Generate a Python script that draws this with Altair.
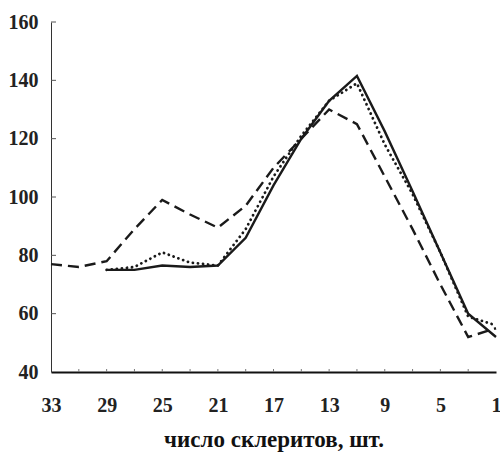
import altair as alt
import pandas as pd

# x positions (number of sclerites) and series values
x_solid = [29, 27, 25, 23, 21, 19, 17, 15, 13, 11, 9, 7, 5, 3, 1]
y_solid = [75, 75, 76.5, 76, 76.5, 86, 104, 120, 133, 141.5, 122.5, 102, 81, 60, 52]

x_dotted = [29, 27, 25, 23, 21, 19, 17, 15, 13, 11, 9, 7, 5, 3, 1]
y_dotted = [75, 76, 81, 77.5, 76.5, 89, 107, 121, 133, 139, 118, 101, 81, 59, 56]

x_dashed = [33, 31, 29, 27, 25, 23, 21, 19, 17, 15, 13, 11, 9, 7, 5, 3, 1]
y_dashed = [77, 76, 78, 89, 99, 94, 89.5, 97, 110, 120, 130, 125, 107, 89, 70, 52, 55]

x_tick_labels = [33, 29, 25, 21, 17, 13, 9, 5, 1]
x_minor_ticks = [31, 29, 27, 25, 23, 21, 19, 17, 15, 13, 11, 9, 7, 5, 3]
y_tick_labels = [40, 60, 80, 100, 120, 140, 160]

W, H = 445, 350
FONT = "Liberation Serif"
INK = "#1a1a1a"

xscale = alt.Scale(domain=[1, 33], reverse=True, nice=False, zero=False)
yscale = alt.Scale(domain=[40, 160], nice=False, zero=False)

xaxis = alt.Axis(values=x_tick_labels, ticks=False, grid=False,
                 domainWidth=2.2, domainColor="#111",
                 labelFont=FONT, labelFontSize=20, labelFontWeight="bold",
                 labelColor="#222", labelPadding=23, labelAngle=0,
                 labelFlush=False, labelOverlap=False,
                 title="число склеритов, шт.", titleFont=FONT,
                 titleFontSize=23, titleFontWeight="bold", titleColor="#111",
                 titlePadding=13)
yaxis = alt.Axis(values=y_tick_labels, ticks=False, grid=False,
                 domainWidth=1, domainColor="#333",
                 labelFont=FONT, labelFontSize=20, labelFontWeight="bold",
                 labelColor="#222", labelPadding=13, labelFlush=False,
                 labelOverlap=False, title=None)

def line_layer(xs, ys, dash=None, width=2.2, cap="butt"):
    df = pd.DataFrame({"x": xs, "y": ys})
    kw = dict(color=INK, strokeWidth=width, strokeCap=cap, strokeJoin="miter")
    if dash:
        kw["strokeDash"] = dash
    return alt.Chart(df).mark_line(**kw).encode(
        x=alt.X("x:Q", scale=xscale, axis=xaxis),
        y=alt.Y("y:Q", scale=yscale, axis=yaxis),
    )

dashed = line_layer(x_dashed, y_dashed, dash=[11, 6], width=2.4)
dotted = line_layer(x_dotted, y_dotted, dash=[0.1, 5], width=2.8, cap="round")
solid = line_layer(x_solid, y_solid, width=2.4)

ytick_df = pd.DataFrame({"y": [v for v in y_tick_labels if v != 40]})
yticks = alt.Chart(ytick_df).mark_rule(color="#555", strokeWidth=1).encode(
    y=alt.Y("y:Q", scale=yscale, axis=yaxis),
    x=alt.value(0), x2=alt.value(5),
)

xtick_df = pd.DataFrame({"x": x_minor_ticks})
xticks = alt.Chart(xtick_df).mark_rule(color="#777", strokeWidth=1).encode(
    x=alt.X("x:Q", scale=xscale, axis=xaxis),
    y=alt.value(H), y2=alt.value(H - 3),
)

chart = alt.layer(yticks, xticks, dashed, dotted, solid).properties(
    width=W, height=H,
    autosize=alt.AutoSizeParams(type="none"),
    padding={"left": 51, "top": 22, "right": 4, "bottom": 83},
    background="white",
).configure_view(stroke=None)

chart.save("out.html", embed_options={"renderer": "svg", "actions": False})
